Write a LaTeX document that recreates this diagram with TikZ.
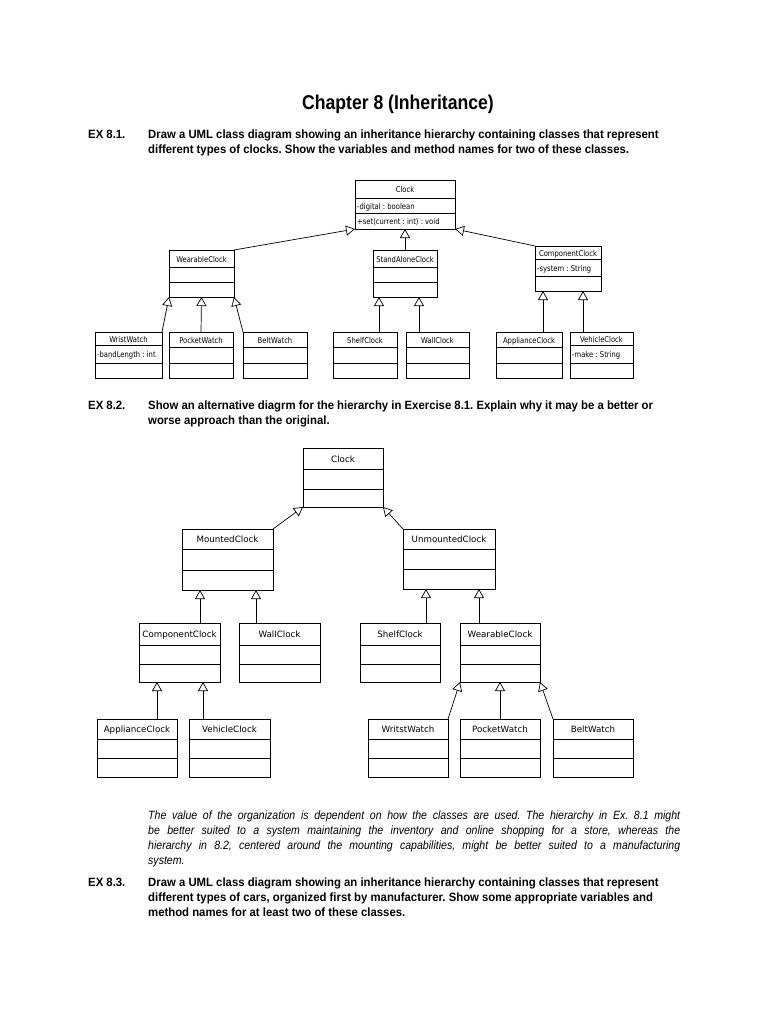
\documentclass[tikz,border=0pt]{standalone}
\usepackage{fontspec}
\setmainfont{Liberation Sans}
\newfontfamily\bodyfont{Liberation Sans}[FakeStretch=0.945]
\newfontfamily\itfont{Liberation Sans}[FakeStretch=0.88]
\newfontfamily\titfont{Liberation Sans}[FakeStretch=0.88]
\newfontfamily\umlfont{DejaVu Sans}
\newfontfamily\umlfontA{DejaVu Sans}[FakeStretch=0.85]
\usetikzlibrary{arrows.meta,calc}
\frenchspacing

\tikzset{
  umlbox/.style={draw, line width=0.8pt, inner sep=0pt, outer sep=0pt, fill=white},
  umldiv/.style={line width=0.6pt},
  umlA/.style={font=\umlfontA\fontsize{8}{9}\selectfont, inner sep=0pt, text height=0.73em, text depth=0pt},
  umlB/.style={font=\umlfont\fontsize{8.7}{10}\selectfont, inner sep=0pt, text height=0.73em, text depth=0pt},
  inh/.style={-{Triangle[open,length=9pt,width=10pt]}, line width=0.7pt},
  bodyb/.style={font=\bodyfont\bfseries\fontsize{12}{15}\selectfont, inner sep=0pt, anchor=base west},
  bodyi/.style={font=\itfont\itshape\fontsize{12}{15}\selectfont, inner sep=0pt, anchor=base west},
  titlef/.style={font=\titfont\bfseries\fontsize{20}{24}\selectfont, inner sep=0pt, anchor=base},
}

% style, name, cx, top, width, height, divider1, divider2, title
\newcommand{\umlc}[9]{%
  \node[umlbox, minimum width=#5pt, minimum height=#6pt, anchor=north] (#2) at (#3,#4) {};
  \draw[umldiv] ($(#2.north west)+(0,#7)$) -- ($(#2.north east)+(0,#7)$);
  \draw[umldiv] ($(#2.north west)+(0,#8)$) -- ($(#2.north east)+(0,#8)$);
  \node[#1] (#2-t) at ($(#2.north)+(0,#7/2)$) {#9};
}

\begin{document}
\begin{tikzpicture}[x=1pt,y=-1pt]
\fill[white] (0,0) rectangle (770,1024);
\useasboundingbox (0,0) rectangle (770,1024);

% ---------- texts ----------
\node[titlef] (title) at (398,110) {Chapter 8 (Inheritance)};

\node[bodyb] (ex1) at (88,139) {EX 8.1.};
\node[bodyb] (ex1a) at (148,139) {Draw a UML class diagram showing an inheritance hierarchy containing classes that represent};
\node[bodyb] (ex1b) at (148,154) {different types of clocks. Show the variables and method names for two of these classes.};

\node[bodyb] (ex2) at (88,409) {EX 8.2.};
\node[bodyb] (ex2a) at (148,409) {Show an alternative diagrm for the hierarchy in Exercise 8.1. Explain why it may be a better or};
\node[bodyb] (ex2b) at (148,424) {worse approach than the original.};

\node[bodyi] (ans1) at (148,819) {\makebox[532pt][s]{The value of the organization is dependent on how the classes are used. The hierarchy in Ex. 8.1 might}};
\node[bodyi] (ans2) at (148,834) {\makebox[532pt][s]{be better suited to a system maintaining the inventory and online shopping for a store, whereas the}};
\node[bodyi] (ans3) at (148,849) {\makebox[532pt][s]{hierarchy in 8.2, centered around the mounting capabilities, might be better suited to a manufacturing}};
\node[bodyi] (ans4) at (148,864) {system.};

\node[bodyb] (ex3) at (88,886) {EX 8.3.};
\node[bodyb] (ex3a) at (148,886) {Draw a UML class diagram showing an inheritance hierarchy containing classes that represent};
\node[bodyb] (ex3b) at (148,901) {different types of cars, organized first by manufacturer. Show some appropriate variables and};
\node[bodyb] (ex3c) at (148,916) {method names for at least two of these classes.};

% ---------- diagram 1 ----------
\umlc{umlA}{c1}{405}{180}{100}{49}{18}{33}{Clock}
\node[umlA, anchor=west] (c1-a) at ($(c1.north west)+(2,25.5)$) {-digital : boolean};
\node[umlA, anchor=west] (c1-m) at ($(c1.north west)+(2,41)$) {+set(current : int) : void};

\umlc{umlA}{wc1}{201.5}{250}{65}{47}{17}{32}{WearableClock}
\umlc{umlA}{sa1}{405}{250}{64}{47}{17}{32}{StandAloneClock}
\umlc{umlA}{cc1}{568}{246}{66}{45}{13}{30}{ComponentClock}
\node[umlA, anchor=west] (cc1-a) at ($(cc1.north west)+(2,21.5)$) {-system : String};

\umlc{umlA}{ww1}{128.5}{332}{67}{46}{13}{31}{WristWatch}
\node[umlA, anchor=west] (ww1-a) at ($(ww1.north west)+(2,22)$) {-bandLength : int};
\umlc{umlA}{pw1}{201}{332}{64}{46}{15}{31}{PocketWatch}
\umlc{umlA}{bw1}{275}{332}{64}{46}{15}{31}{BeltWatch}
\umlc{umlA}{sh1}{365}{332}{64}{46}{15}{31}{ShelfClock}
\umlc{umlA}{wl1}{437.5}{332}{63}{46}{15}{31}{WallClock}
\umlc{umlA}{ap1}{529}{332}{66}{46}{15}{31}{ApplianceClock}
\umlc{umlA}{vc1}{601.5}{332}{63}{46}{13}{31}{VehicleClock}
\node[umlA, anchor=west] (vc1-a) at ($(vc1.north west)+(2,22)$) {-make : String};

\draw[inh] (wc1.north east) -- (c1.south west);
\draw[inh] (sa1.north) -- (c1.south);
\draw[inh] (cc1.north west) -- (c1.south east);
\draw[inh] (ww1.north east) -- (wc1.south west);
\draw[inh] (pw1.north) -- (wc1.south);
\draw[inh] (bw1.north west) -- (wc1.south east);
\coordinate (p1) at ($(sh1.north)+(14,0)$);
\coordinate (p2) at ($(wl1.north)+(-18.5,0)$);
\coordinate (p3) at ($(ap1.north)+(14,0)$);
\coordinate (p4) at ($(vc1.north)+(-18.5,0)$);
\draw[inh] (p1) -- (p1 |- sa1.south);
\draw[inh] (p2) -- (p2 |- sa1.south);
\draw[inh] (p3) -- (p3 |- cc1.south);
\draw[inh] (p4) -- (p4 |- cc1.south);

% ---------- diagram 2 ----------
\umlc{umlB}{c2}{343}{448}{80}{59}{21}{41}{Clock}
\umlc{umlB}{mc2}{227.5}{529}{91}{61}{20}{41}{MountedClock}
\umlc{umlB}{uc2}{449}{529}{92}{60}{20}{40}{UnmountedClock}
\umlc{umlB}{cc2}{179.5}{623}{81}{59}{22}{41}{ComponentClock}
\umlc{umlB}{wl2}{279.5}{623}{81}{59}{22}{41}{WallClock}
\umlc{umlB}{sh2}{400}{623}{80}{59}{22}{41}{ShelfClock}
\umlc{umlB}{wc2}{500}{623}{80}{59}{22}{41}{WearableClock}
\umlc{umlB}{ap2}{137}{719}{80}{58}{20}{39}{ApplianceClock}
\umlc{umlB}{vc2}{229.5}{719}{81}{58}{20}{39}{VehicleClock}
\umlc{umlB}{ww2}{408}{719}{80}{58}{20}{39}{WritstWatch}
\umlc{umlB}{pw2}{500}{719}{80}{58}{20}{39}{PocketWatch}
\umlc{umlB}{bw2}{593}{719}{80}{58}{20}{39}{BeltWatch}

\draw[inh] (mc2.north east) -- (c2.south west);
\draw[inh] (uc2.north west) -- (c2.south east);
\coordinate (q1) at ($(cc2.north)+(20.5,0)$);
\coordinate (q2) at ($(wl2.north)+(-23.5,0)$);
\coordinate (q3) at ($(sh2.north)+(26,0)$);
\coordinate (q4) at ($(wc2.north)+(-21,0)$);
\coordinate (q5) at ($(ap2.north)+(20,0)$);
\coordinate (q6) at ($(vc2.north)+(-26.5,0)$);
\draw[inh] (q1) -- (q1 |- mc2.south);
\draw[inh] (q2) -- (q2 |- mc2.south);
\draw[inh] (q3) -- (q3 |- uc2.south);
\draw[inh] (q4) -- (q4 |- uc2.south);
\draw[inh] (q5) -- (q5 |- cc2.south);
\draw[inh] (q6) -- (q6 |- cc2.south);
\draw[inh] (ww2.north east) -- (wc2.south west);
\draw[inh] (pw2.north) -- (wc2.south);
\draw[inh] (bw2.north west) -- (wc2.south east);
\end{tikzpicture}
\end{document}
